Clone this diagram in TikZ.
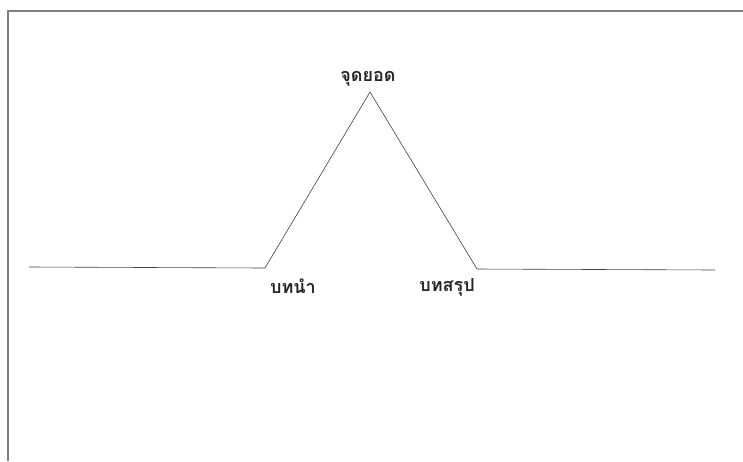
\documentclass[tikz,border=0pt]{standalone}
\usepackage{fontspec}
\newfontfamily\thaifont[Script=Thai]{Loma}
\begin{document}
\begin{tikzpicture}[x=1pt,y=-1pt,
  curve/.style={draw=black!75,line width=0.6pt},
  frame/.style={draw=black!50,line width=1.6pt},
  lbl/.style={font=\thaifont\bfseries\fontsize{18}{20}\selectfont,text=black!85,inner sep=0pt}]
\useasboundingbox (0,0) rectangle (743,461);
\fill[white] (0,0) rectangle (743,461);
\coordinate (f1) at (8,461);
\coordinate (f2) at (8,11);
\coordinate (f3) at (743,11);
\draw[frame] (f1) -- (f2) -- (f3);
\coordinate (L) at (29,267);
\coordinate (A) at (265,268);
\coordinate (P) at (370,92);
\coordinate (B) at (477,269);
\coordinate (R) at (715,270);
\draw[curve,line join=miter] (L) -- (A) -- (P) -- (B) -- (R);
\node[lbl] (top) at (368,79) {จุดยอด};
\node[lbl] (intro) at (293,286) {บทนำ};
\node[lbl] (concl) at (447,287) {บทสรุป};
\end{tikzpicture}
\end{document}
